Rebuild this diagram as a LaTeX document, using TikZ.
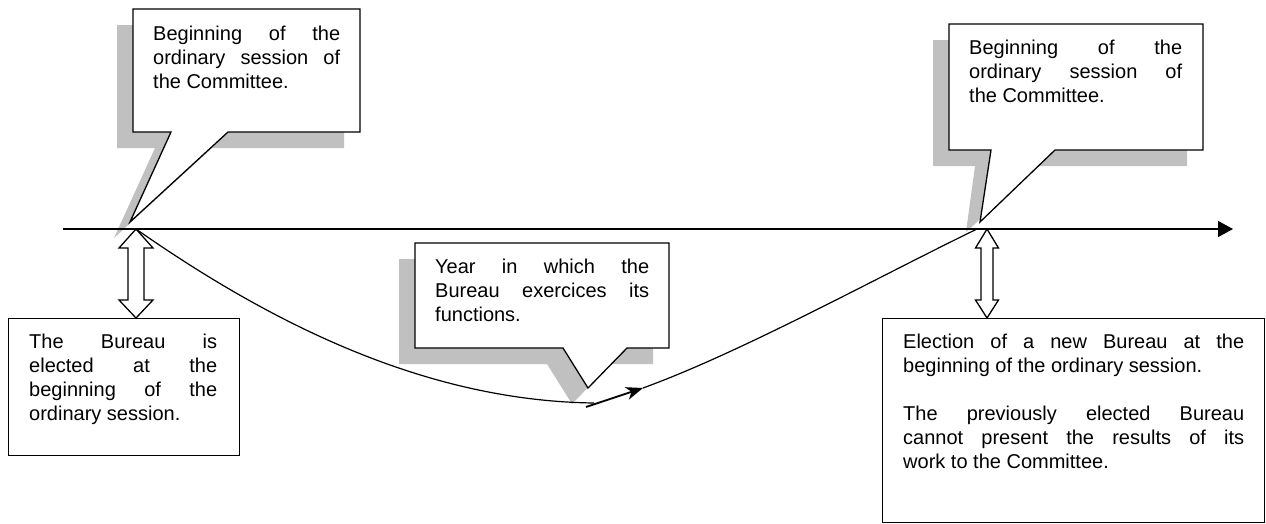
\documentclass[tikz,border=0pt]{standalone}
\usepackage{fontspec}
\setmainfont{Liberation Sans}
\usetikzlibrary{calc,arrows.meta}
\definecolor{shad}{RGB}{192,192,192}
\newcommand\jline[2]{\hbox{\makebox[#1][s]{#2}}}
\newcommand\nline[1]{\hbox{#1}}
\begin{document}
\begin{tikzpicture}[x=1pt,y=-1pt,line join=miter,
  outline/.style={draw=black,line width=1.3pt,fill=white},
  shadowfill/.style={fill=shad,draw=none},
  txt/.style={anchor=base west,inner sep=0pt,font=\fontsize{20}{24}\selectfont},
  curveline/.style={draw=black,line width=1.2pt},
  boxnode/.style={draw=black,line width=1.3pt,fill=white,anchor=north west,inner sep=0pt}]
\useasboundingbox (0,0) rectangle (1266,523);

% ---- named points
\coordinate (s1) at (136,229);
\coordinate (s2) at (977,229);
\coordinate (m1) at (594,403);
\coordinate (a0) at (586,407);
\coordinate (m2) at (643,388);
\coordinate (lstart) at (63,229);
\coordinate (lend) at (1233,229);

% ---- shadows
\fill[shadowfill] (117,25) -- (344,25) -- (344,148) -- (212,148) -- (114,238) -- (155,148) -- (117,148) -- cycle;
\fill[shadowfill] (933,40) -- (1187,40) -- (1187,166) -- (1039,166) -- (966,232) -- (975,166) -- (933,166) -- cycle;
\fill[shadowfill] (399,259) -- (653,259) -- (653,364) -- (611,364) -- (572,404) -- (547,364) -- (399,364) -- cycle;

% ---- callouts
\draw[outline] (133,9) -- (360,9) -- (360,132) -- (228,132) -- (130,222) -- (171,132) -- (133,132) -- cycle;
\draw[outline] (949,24) -- (1203,24) -- (1203,150) -- (1055,150) -- (980,222) -- (991,150) -- (949,150) -- cycle;
\draw[outline] (415,243) -- (669,243) -- (669,348) -- (627,348) -- (588,388) -- (563,348) -- (415,348) -- cycle;

% ---- time line
\draw[line width=1.3pt,-{Triangle[length=15pt,width=16pt]}] (lstart) -- (lend);
\draw[line width=2.6pt] (1175,229) -- (1218,229);

% ---- curve
\draw[curveline] (s1) .. controls (286,334) and (437,401) .. (m1);
\draw[line width=1.8pt,-{Stealth[length=17pt,width=13pt,inset=5pt]}] (a0) -- (m2);
\draw[curveline] (m2) .. controls (742,352) and (880,276) .. (s2);

% ---- boxes
\node[boxnode,minimum width=231pt,minimum height=137pt] (lbox) at (8,318) {};
\node[boxnode,minimum width=382pt,minimum height=204pt] (rbox) at (882,318) {};

% ---- double arrows
\draw[outline] (s1) -- ++(17,19) -- ++(-9,0) -- (144,300) -- ++(9,0) -- (lbox.north -| s1) -- (119,300) -- ++(9,0) -- (128,248) -- ++(-9,0) -- cycle;
\coordinate (t2) at (987,229);
\draw[outline] (t2) -- ++(11.5,19) -- ++(-5.5,0) -- (993,300) -- ++(5.5,0) -- (rbox.north -| t2) -- (975.5,300) -- ++(5.5,0) -- (981,248) -- ++(-5.5,0) -- cycle;

% ---- texts
\node[txt] (c1t) at (153,40) {\vtop{\jline{187pt}{Beginning of the}\jline{187pt}{ordinary session of}\nline{the Committee.}}};
\node[txt] (c2t) at (969,54) {\vtop{\jline{213pt}{Beginning of the}\jline{213pt}{ordinary session of}\nline{the Committee.}}};
\node[txt] (c3t) at (435,273) {\vtop{\jline{214pt}{Year in which the}\jline{214pt}{Bureau exercices its}\nline{functions.}}};
\node[txt] (lt) at (29,348) {\vtop{\jline{188pt}{The Bureau is}\jline{188pt}{elected at the}\jline{188pt}{beginning of the}\nline{ordinary session.}}};
\node[txt] (rt) at (903,348) {\vtop{\jline{341pt}{Election of a new Bureau at the}\nline{beginning of the ordinary session.}\hbox{}\jline{341pt}{The previously elected Bureau}\jline{341pt}{cannot present the results of its}\nline{work to the Committee.}}};
\end{tikzpicture}
\end{document}
